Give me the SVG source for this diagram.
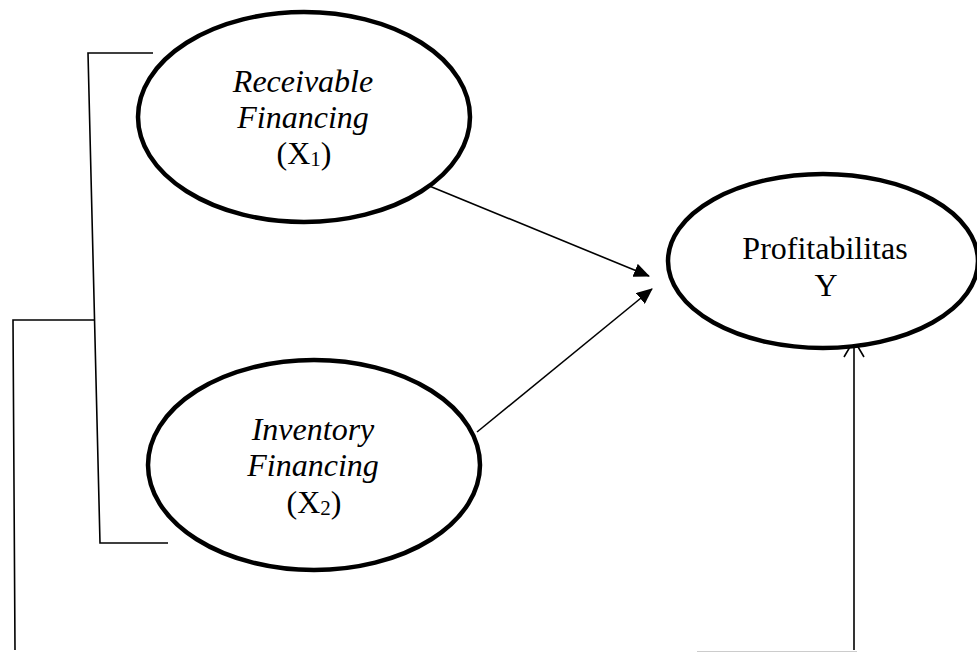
<svg xmlns="http://www.w3.org/2000/svg" width="977" height="652" viewBox="0 0 977 652">
<defs>
<style>
.node{fill:#fff;stroke:#000;stroke-width:4.5}
.ln{fill:none;stroke:#000;stroke-width:1.6}
.t{font-family:"Liberation Serif","Times New Roman",serif;font-size:32px;fill:#000;text-anchor:middle}
.it{font-style:italic}
</style>
<marker id="tri" markerWidth="16" markerHeight="14" refX="15" refY="7" orient="auto" markerUnits="userSpaceOnUse">
<path d="M0,0 L16,7 L0,14 Z" fill="#000"/>
</marker>
</defs>
<rect width="977" height="652" fill="#fff"/>
<g id="connectors">
<path class="ln" d="M153,53 L88,53 L100,543 L168,543"/>
<path class="ln" d="M95,320 L13,320 L15,650"/>
<line class="ln" x1="422" y1="183" x2="649" y2="276" marker-end="url(#tri)"/>
<line class="ln" x1="477" y1="432" x2="652" y2="289" marker-end="url(#tri)"/>
<line class="ln" x1="854" y1="650" x2="854" y2="341"/>
<path class="ln" d="M844,357 L854,340 L864,357"/>
<line x1="697" y1="651.5" x2="857" y2="651.5" stroke="#ccc" stroke-width="1"/>
</g>
<g id="node-x1">
<ellipse class="node" cx="304" cy="117" rx="166" ry="105"/>
<text class="t it" x="303" y="92">Receivable</text>
<text class="t it" x="303" y="128">Financing</text>
<text class="t" x="304" y="164">(X<tspan font-size="21" dy="2">1</tspan><tspan dy="-2">)</tspan></text>
</g>
<g id="node-x2">
<ellipse class="node" cx="314" cy="465" rx="166" ry="105"/>
<text class="t it" x="313" y="440">Inventory</text>
<text class="t it" x="313" y="476">Financing</text>
<text class="t" x="314" y="513">(X<tspan font-size="21" dy="2">2</tspan><tspan dy="-2">)</tspan></text>
</g>
<g id="node-y">
<ellipse class="node" cx="823" cy="261" rx="155" ry="87"/>
<text class="t" x="825" y="259">Profitabilitas</text>
<text class="t" x="826" y="296">Y</text>
</g>
</svg>
